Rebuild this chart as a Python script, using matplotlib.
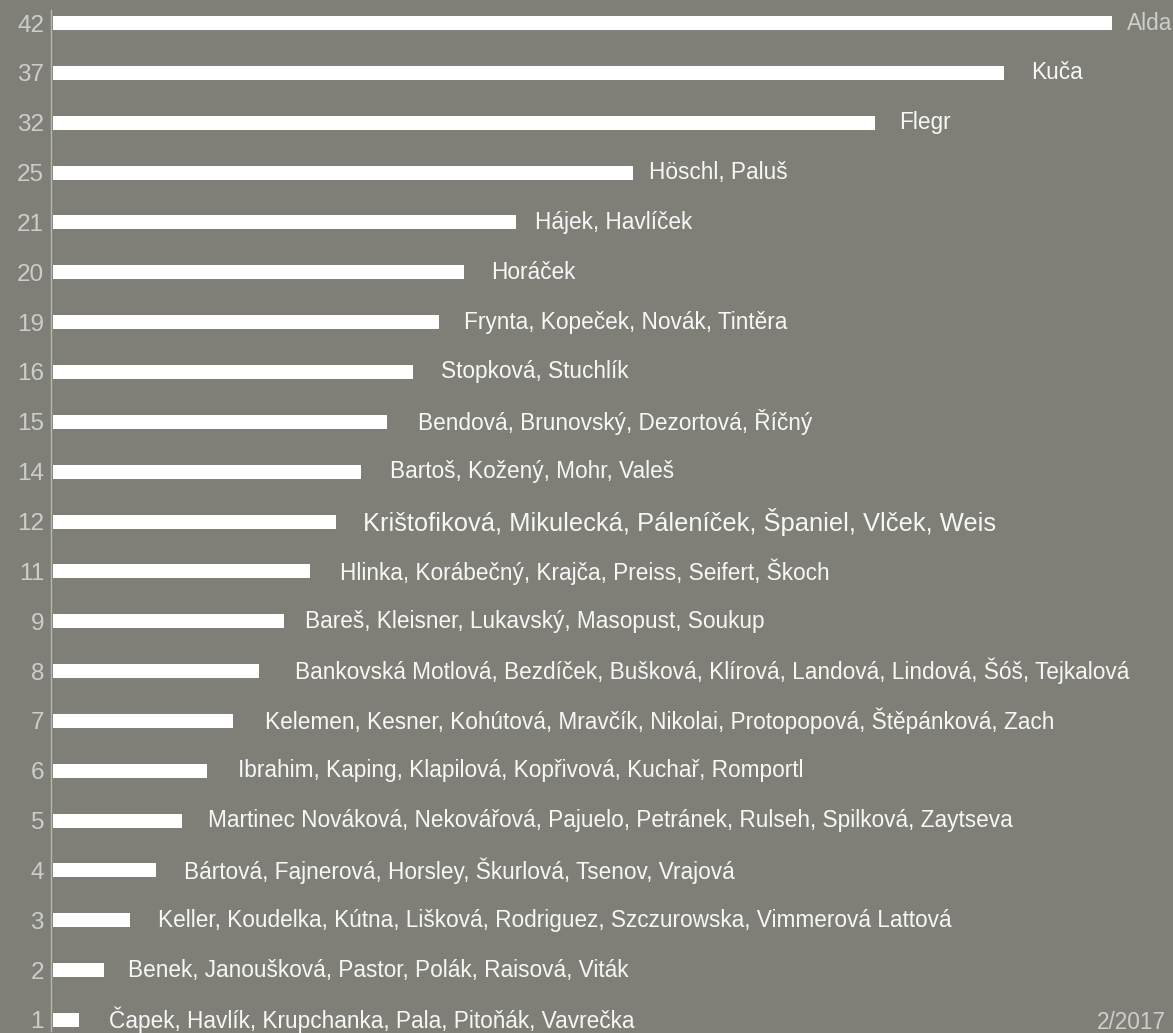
import matplotlib
matplotlib.use("Agg")
import matplotlib.pyplot as plt

# rows from top to bottom
scores = [42, 37, 32, 25, 21, 20, 19, 16, 15, 14, 12, 11, 9, 8, 7, 6, 5, 4, 3, 2, 1]
bar_len = [41.2, 37.0, 32.0, 22.55, 18.0, 16.0, 15.0, 14.0, 13.0, 12.0, 11.0,
           10.0, 9.0, 8.0, 7.0, 6.0, 5.0, 4.0, 3.0, 2.0, 1.0]
names = [
    "Alda",
    "Kuča",
    "Flegr",
    "Höschl, Paluš",
    "Hájek, Havlíček",
    "Horáček",
    "Frynta, Kopeček, Novák, Tintěra",
    "Stopková, Stuchlík",
    "Bendová, Brunovský, Dezortová, Říčný",
    "Bartoš, Kožený, Mohr, Valeš",
    "Krištofiková, Mikulecká, Páleníček, Španiel, Vlček, Weis",
    "Hlinka, Korábečný, Krajča, Preiss, Seifert, Škoch",
    "Bareš, Kleisner, Lukavský, Masopust, Soukup",
    "Bankovská Motlová, Bezdíček, Bušková, Klírová, Landová, Lindová, Šóš, Tejkalová",
    "Kelemen, Kesner, Kohútová, Mravčík, Nikolai, Protopopová, Štěpánková, Zach",
    "Ibrahim, Kaping, Klapilová, Kopřivová, Kuchař, Romportl",
    "Martinec Nováková, Nekovářová, Pajuelo, Petránek, Rulseh, Spilková, Zaytseva",
    "Bártová, Fajnerová, Horsley, Škurlová, Tsenov, Vrajová",
    "Keller, Koudelka, Kútna, Lišková, Rodriguez, Szczurowska, Vimmerová Lattová",
    "Benek, Janoušková, Pastor, Polák, Raisová, Viták",
    "Čapek, Havlík, Krupchanka, Pala, Pitoňák, Vavrečka",
]
# gap between bar end and label, in pixels
label_gap = [15, 27, 24, 16, 19, 27, 25, 28, 31, 29, 27, 30, 21, 36, 32, 31, 27, 28, 28, 24, 30]

BG = "#7f7f77"
GREY = "#cdcdcd"
W, H = 1173, 1033
PX = 25.7    # pixels per bar unit
ROW = 49.85  # pixels per row

plt.rcParams['font.family'] = ['Liberation Sans', 'DejaVu Sans']

fig = plt.figure(figsize=(W / 100, H / 100), dpi=100, facecolor=BG)
ax = fig.add_axes([51 / W, 2 / H, (W - 51) / W, 1021 / H], facecolor=BG)

n = len(scores)
ypos = [n - 1 - i for i in range(n)]
ax.barh(ypos, bar_len, height=14 / ROW, color="white", linewidth=0)

ax.set_xlim(-2 / PX, (W - 53) / PX)
ax.set_ylim(-11 / ROW, (1021 - 11) / ROW)

for s in ["top", "right", "bottom"]:
    ax.spines[s].set_visible(False)
ax.spines["left"].set_color("#b4b6bb")
ax.spines["left"].set_linewidth(1.0)
ax.set_xticks([])
ax.set_yticks(ypos)
ax.set_yticklabels([str(s) for s in scores])
ax.tick_params(axis="y", length=0, pad=5, labelsize=17.5, labelcolor=GREY)

for i, (y, v, name, gap) in enumerate(zip(ypos, bar_len, names, label_gap)):
    size = 18.4 if scores[i] == 12 else 16.3
    color = GREY if i == 0 else "#f7f7f7"
    ax.annotate(name, (v, y), xytext=(gap * 0.72, 0), textcoords="offset points",
                ha="left", va="center", fontsize=size, color=color,
                annotation_clip=False)

fig.text(1166 / W, 4 / H, "2/2017", ha="right", va="baseline",
         fontsize=16.3, color=GREY)

fig.savefig("out.png", dpi=100, facecolor=BG)
